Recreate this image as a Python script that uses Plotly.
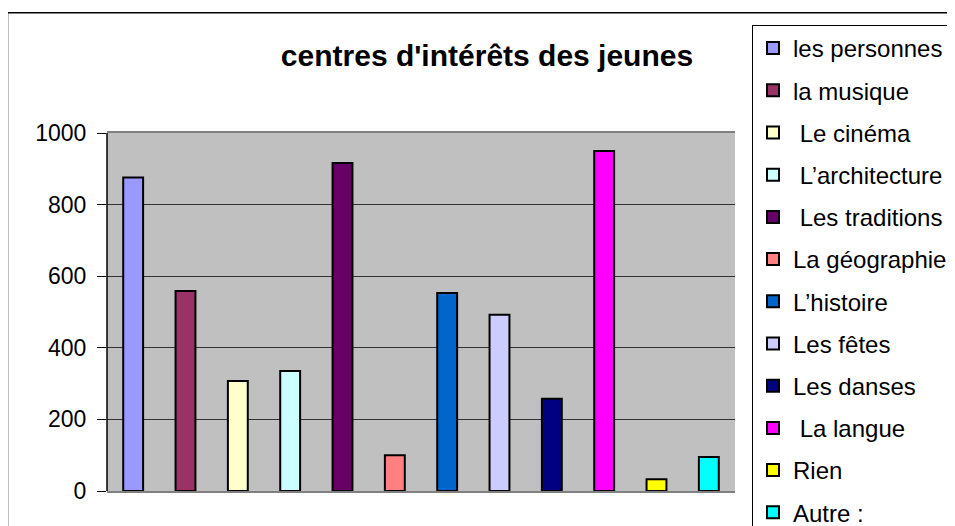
import plotly.graph_objects as go

categories = ["les personnes", "la musique", " Le cinéma", " L\u2019architecture", " Les traditions",
              "La géographie", "L\u2019histoire", "Les fêtes", "Les danses", " La langue", "Rien", "Autre :"]
values = [876, 559, 307, 335, 916, 100, 553, 492, 258, 950, 33, 95]
colors = ["#9999FF", "#993366", "#FFFFCC", "#CCFFFF", "#660066", "#FF8080",
          "#0066CC", "#CCCCFF", "#000080", "#FF00FF", "#FFFF00", "#00FFFF"]
y_ticks = [0, 200, 400, 600, 800, 1000]

W, H = 955, 526
OFF = 8  # page body margin
L, R, T, B = 107 - OFF, 735 - OFF, 133 - OFF, 491 - OFF

fig = go.Figure()
for i, (c, v, col) in enumerate(zip(categories, values, colors)):
    fig.add_trace(go.Bar(
        x=[i], y=[v], name=c, width=0.38,
        marker=dict(color=col, line=dict(color="black", width=2)),
        legendgroup=str(i),
    ))

def px(x):
    return (x - OFF - L) / (R - L)

def py(y):
    return (B - (y - OFF)) / (B - T)

fig.update_layout(
    width=W, height=H,
    margin=dict(l=L, r=W - R, t=T, b=H - B, autoexpand=False),
    paper_bgcolor="white",
    plot_bgcolor="#C0C0C0",
    barmode="overlay",
    font=dict(family="Liberation Sans, Arial, sans-serif", color="black", size=23),
    title=dict(text="<b>centres d'intérêts des jeunes</b>", x=(487 - OFF) / W, xanchor="center",
               y=1 - (55 - OFF) / H, yanchor="middle", yref="container", xref="container",
               font=dict(size=30, color="black")),
    showlegend=True,
    legend=dict(x=px(752), y=py(25), xanchor="left", yanchor="top",
                bordercolor="black", borderwidth=1, bgcolor="white",
                font=dict(size=24), traceorder="grouped", tracegroupgap=8,
                itemwidth=30, maxheight=800),
    xaxis=dict(range=[-0.5, 11.5], showticklabels=False, showgrid=False, zeroline=False,
               showline=True, linecolor="#808080", linewidth=2, mirror=True, ticks=""),
    yaxis=dict(range=[0, 1000], tickvals=y_ticks, showgrid=True, gridcolor="#333333",
               gridwidth=1, zeroline=False, showline=False,
               ticks="outside", ticklen=9, tickcolor="black", tickwidth=1,
               ticklabelstandoff=6, tickfont=dict(size=23)),
)

# left axis line (black) and outer chart border
fig.add_shape(type="line", xref="paper", yref="paper", x0=0, x1=0, y0=0, y1=1,
              line=dict(color="black", width=1.5))
fig.add_shape(type="rect", xref="paper", yref="paper",
              x0=px(7.5), x1=px(975), y0=py(560), y1=py(12.8),
              line=dict(color="black", width=1.5), fillcolor="rgba(0,0,0,0)", layer="below")

fig.write_html("out.html")
